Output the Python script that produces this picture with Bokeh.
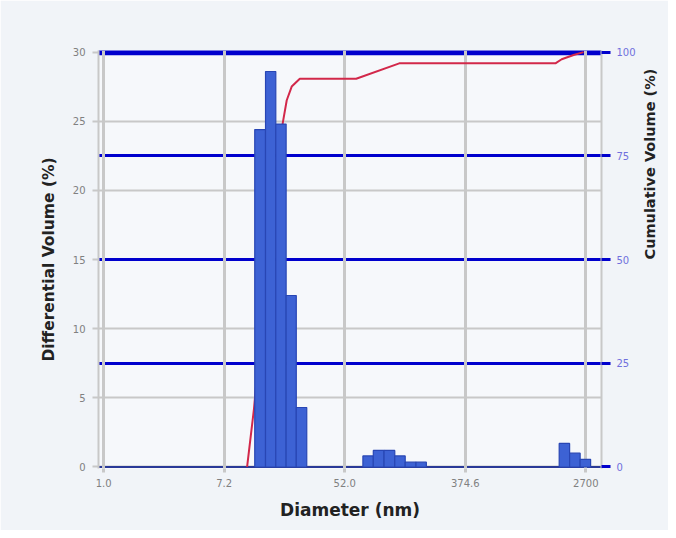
import math
from bokeh.plotting import figure
from bokeh.models import Range1d, LinearAxis, FixedTicker, Grid, Span
from bokeh.embed import file_html
from bokeh.resources import INLINE

# ---- data ----
x_ticks = [1.0, 7.2, 52.0, 374.6, 2700.0]
x_tick_labels = ["1.0", "7.2", "52.0", "374.6", "2700"]
diff_ticks = [0, 5, 10, 15, 20, 25, 30]
cum_ticks = [0, 25, 50, 75, 100]
cum_mid_ticks = [25, 50, 75]

# differential volume histogram (bin edges in nm, values in %)
main_edges = [11.9, 14.2, 16.8, 19.9, 23.5, 27.9]
main_vals = [24.4, 28.6, 24.8, 12.4, 4.3]
mid_edges = [70, 83, 99, 118, 140, 167, 198]
mid_vals = [0.8, 1.2, 1.2, 0.8, 0.35, 0.35]
tail_edges = [1745, 2070, 2460, 2920]
tail_vals = [1.7, 1.0, 0.55]

# cumulative volume curve (nm, %)
cum_diam = [10.5, 11.75, 12.96, 15.25, 17.37, 18.85, 20.1, 21.8, 24.9, 62.7, 127, 1640, 1818, 2211, 2600]
cum_vals = [0, 14, 30, 58, 75, 83, 88.4, 91.7, 93.6, 93.6, 97.3, 97.3, 98.3, 99.3, 100]

lefts, rights, tops = [], [], []
for edges, vals in ((main_edges, main_vals), (mid_edges, mid_vals), (tail_edges, tail_vals)):
    lefts += edges[:-1]
    rights += edges[1:]
    tops += vals

Y0, Y1 = -0.11, 30.12
p = figure(width=668, height=530, x_axis_type="log",
           x_range=Range1d(0.92, 3490), y_range=Range1d(Y0, Y1),
           output_backend="svg", toolbar_location=None,
           min_border_left=98, min_border_right=65,
           min_border_top=50, min_border_bottom=62)
p.extra_y_ranges = {"cum": Range1d(Y0 * 100 / 30, Y1 * 100 / 30)}

p.background_fill_color = "#f6f8fb"
p.border_fill_color = "#f1f4f8"
p.outline_line_color = None

GRAY = "#c8c8c8"
BLUE = "#0000cd"

# cumulative curve (under the bars)
p.line(cum_diam, cum_vals, y_range_name="cum", line_color="#d2284a", line_width=2)

# bars
p.quad(left=lefts, right=rights, top=tops, bottom=0,
       fill_color="#3d62d4", line_color="#2846b4", line_width=1.2)

# axes
xa = p.xaxis[0]
xa.ticker = FixedTicker(ticks=x_ticks)
xa.major_label_overrides = dict(zip(x_ticks, x_tick_labels))
xa.axis_line_color = None
xa.major_tick_line_color = GRAY
xa.major_tick_line_width = 3
xa.major_tick_out = 4
xa.major_tick_in = 0
xa.minor_tick_line_color = None
xa.major_label_standoff = 6
xa.major_label_text_font = "DejaVu Sans"
xa.major_label_text_font_size = "10px"
xa.major_label_text_color = "#808080"
xa.axis_label = "Diameter (nm)"
xa.axis_label_text_font = "DejaVu Sans"
xa.axis_label_text_font_style = "bold"
xa.axis_label_text_font_size = "17px"
xa.axis_label_text_color = "#222222"
xa.axis_label_standoff = 10

ya = p.yaxis[0]
ya.ticker = FixedTicker(ticks=diff_ticks)
ya.axis_line_color = GRAY
ya.axis_line_width = 2
ya.major_tick_line_color = GRAY
ya.major_tick_line_width = 2
ya.major_tick_out = 6
ya.major_tick_in = 0
ya.minor_tick_line_color = None
ya.major_label_standoff = 7
ya.major_label_text_font = "DejaVu Sans"
ya.major_label_text_font_size = "10px"
ya.major_label_text_color = "#808080"
ya.axis_label = "Differential Volume (%)"
ya.axis_label_text_font = "DejaVu Sans"
ya.axis_label_text_font_style = "bold"
ya.axis_label_text_font_size = "15.5px"
ya.axis_label_text_color = "#222222"
ya.axis_label_standoff = 12

ra = LinearAxis(y_range_name="cum", ticker=FixedTicker(ticks=cum_ticks))
ra.axis_line_color = GRAY
ra.axis_line_width = 2
ra.major_tick_line_color = BLUE
ra.major_tick_line_width = 3
ra.major_tick_out = 9
ra.major_tick_in = 0
ra.minor_tick_line_color = None
ra.major_label_standoff = 6
ra.major_label_text_font = "DejaVu Sans"
ra.major_label_text_font_size = "10px"
ra.major_label_text_color = "#7070dd"
ra.axis_label = "Cumulative Volume (%)"
ra.axis_label_text_font = "DejaVu Sans"
ra.axis_label_text_font_style = "bold"
ra.axis_label_text_font_size = "14.5px"
ra.axis_label_text_color = "#222222"
ra.axis_label_standoff = 11
try:
    ra.axis_label_orientation = math.pi / 2
except Exception:
    pass
p.add_layout(ra, "right")

# grids and reference lines, in drawing order
gy = Grid(dimension=1, ticker=FixedTicker(ticks=diff_ticks), grid_line_color=GRAY, grid_line_width=2)
gblue = Grid(dimension=1, ticker=FixedTicker(ticks=cum_mid_ticks), y_range_name="cum",
             grid_line_color=BLUE, grid_line_width=3)
top_line = Span(location=cum_ticks[-1], dimension="width", y_range_name="cum",
                line_color=BLUE, line_width=6, level="underlay")
base_line = Span(location=cum_ticks[0], dimension="width", y_range_name="cum",
                 line_color="#2a3a98", line_width=2, level="underlay")
gx = Grid(dimension=0, ticker=FixedTicker(ticks=x_ticks), grid_line_color=GRAY, grid_line_width=3)
p.center = [gy, gblue, top_line, base_line, gx]

open("out.html", "w").write(file_html(p, INLINE))
